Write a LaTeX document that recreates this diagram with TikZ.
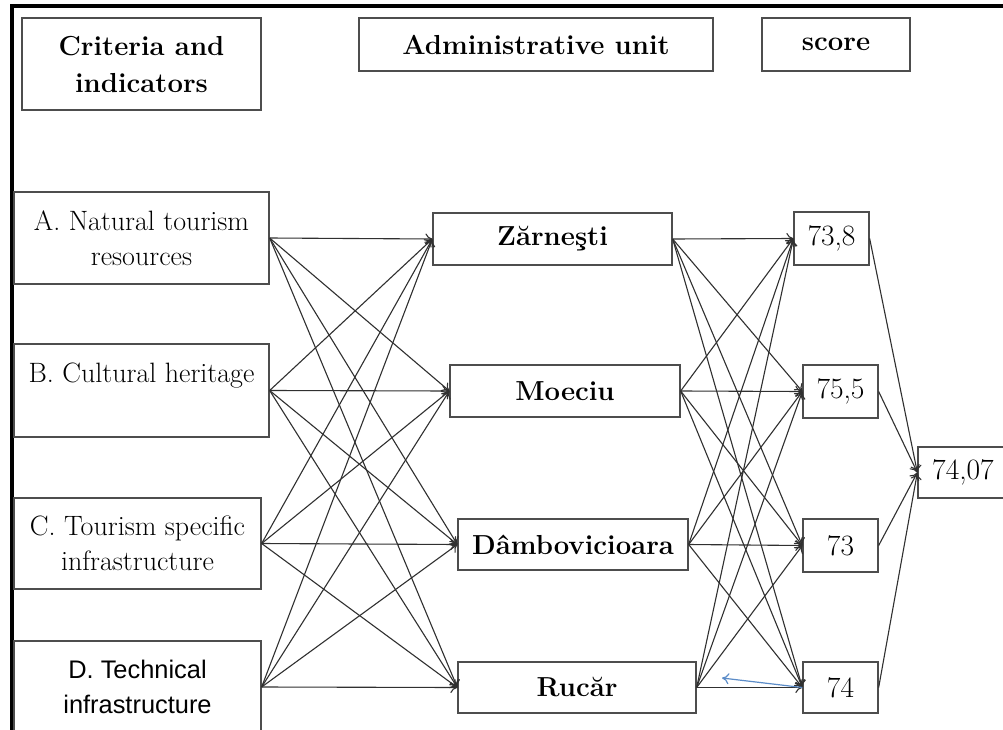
\documentclass[tikz,border=0pt]{standalone}
\usepackage{fontspec}
\newfontfamily\arialfont{Liberation Sans}
\usetikzlibrary{arrows.meta}
\definecolor{boxgray}{HTML}{4D4D4D}
\definecolor{linegray}{HTML}{303030}
\definecolor{bluelink}{HTML}{5B8CC8}
\begin{document}
\begin{tikzpicture}[x=1pt,y=-1pt,
  box/.style={draw=boxgray, line width=1.3pt, inner sep=0pt, align=center, fill=white},
  hdr/.style={box, font=\fontsize{27.5}{37}\selectfont\bfseries},
  crit/.style={box, font=\fontsize{28}{35}\selectfont},
  critsans/.style={box, font=\arialfont\fontsize{25.4}{35}\selectfont},
  unit/.style={box, font=\fontsize{27.5}{30}\selectfont\bfseries},
  scr/.style={box, font=\fontsize{29.5}{30}\selectfont},
  link/.style={draw=linegray, line width=1.1pt, -{To[length=7pt,width=11pt]}},
  backlink/.style={draw=bluelink, line width=1.2pt, -{To[length=7pt,width=11pt]}}]
\useasboundingbox (0,0) rectangle (1003,730);
\fill[white] (0,0) rectangle (1003,730);
\draw[line width=3.5pt] (12,735) -- (12,6) -- (1008,6);

% headers
\node[hdr, minimum width=239pt, minimum height=92pt] (h1) at (141.5,64) {Criteria and\\indicators};
\node[hdr, minimum width=354pt, minimum height=53pt] (h2) at (536,44.5) {Administrative unit};
\node[hdr, minimum width=148pt, minimum height=53pt] (h3) at (836,44.5) {score};

% criteria
\node[crit, minimum width=255pt, minimum height=92pt] (a) at (141.5,238) {A. Natural tourism\\resources};
\node[crit, minimum width=255pt, minimum height=93pt] (b) at (141.5,390.5) {B. Cultural heritage\\\mbox{}};
\node[crit, minimum width=247pt, minimum height=91pt] (c) at (137.5,543.5) {C. Tourism specific\\infrastructure};
\node[critsans, minimum width=247pt, minimum height=92pt] (d) at (137.5,687) {D. Technical\\infrastructure};

% administrative units
\node[unit, minimum width=239pt, minimum height=52pt] (z) at (552.5,239) {Zărneşti};
\node[unit, minimum width=230pt, minimum height=52pt] (m) at (565,391) {Moeciu};
\node[unit, minimum width=230pt, minimum height=51pt] (dm) at (573,544.5) {Dâmbovicioara};
\node[unit, minimum width=238pt, minimum height=51pt] (r) at (577,687.5) {Rucăr};

% scores
\node[scr, minimum width=75pt, minimum height=53pt] (s1) at (831.5,238.5) {73,8};
\node[scr, minimum width=75pt, minimum height=53pt] (s2) at (840.5,391.5) {75,5};
\node[scr, minimum width=75pt, minimum height=53pt] (s3) at (840.5,545.5) {73};
\node[scr, minimum width=75pt, minimum height=51pt] (s4) at (840.5,687.5) {74};
\node[scr, minimum width=90pt, minimum height=51pt] (fin) at (963,472.5) {74,07};

% connectors
\foreach \p in {a,b,c,d}
  \foreach \q in {z,m,dm,r}
    \draw[link] (\p.east) -- (\q.west);
\foreach \p in {z,m,dm,r}
  \foreach \q in {s1,s2,s3,s4}
    \draw[link] (\p.east) -- (\q.west);
\foreach \p in {s1,s2,s3,s4}
  \draw[link] (\p.east) -- (fin.west);

\coordinate (bl) at (722,678);
\draw[backlink] (s4.west) -- (bl);
\end{tikzpicture}
\end{document}
